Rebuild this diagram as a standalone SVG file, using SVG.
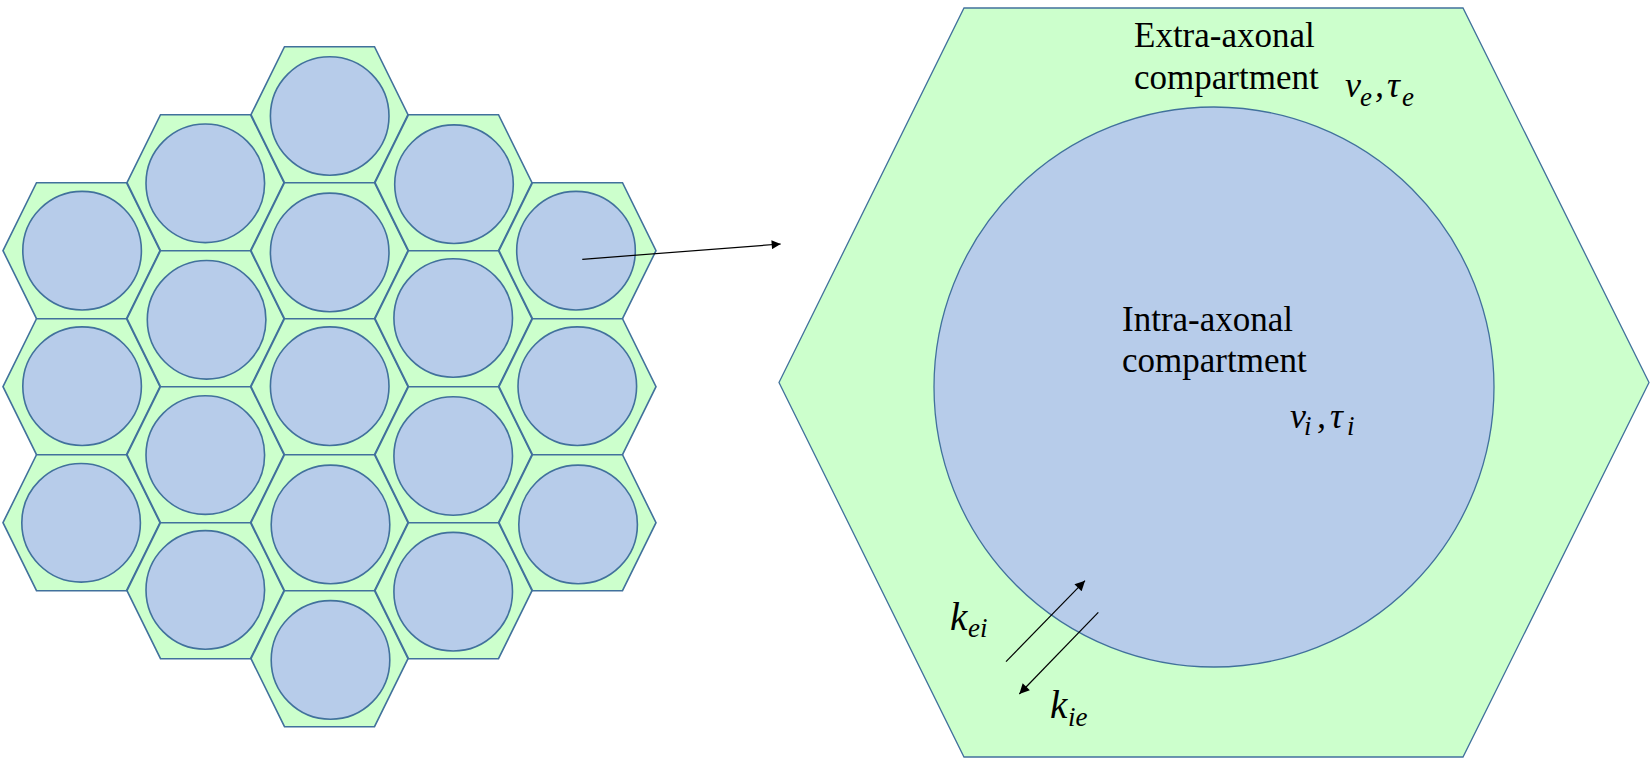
<svg xmlns="http://www.w3.org/2000/svg" xmlns:xlink="http://www.w3.org/1999/xlink" width="1652" height="761" viewBox="0 0 1652 761">
<style>
.hex{fill:#CCFFCC;stroke:#41719C;stroke-width:1.6;stroke-linejoin:miter}
.ax{fill:#B7CCEA;stroke:#41719C;stroke-width:1.6}
.bighex{fill:#CCFFCC;stroke:#41719C;stroke-width:1.3}
.bigax{fill:#B7CCEA;stroke:#41719C;stroke-width:1.3}
.conn{stroke:#000;stroke-width:1.2;fill:none}
</style>
<defs>
<polygon id="hex" points="-78.5,0 -45,-68 45,-68 78.5,0 45,68 -45,68"/>
<marker id="arr" viewBox="0 0 10 10" refX="10" refY="5" markerWidth="10" markerHeight="9" markerUnits="userSpaceOnUse" orient="auto">
<path d="M0,0 L10,5 L0,10 Z" fill="#000"/>
</marker>
<marker id="arr2" viewBox="0 0 10 10" refX="10" refY="5" markerWidth="12" markerHeight="10" markerUnits="userSpaceOnUse" orient="auto">
<path d="M0,0 L10,5 L0,10 Z" fill="#000"/>
</marker>
</defs>

<g id="cluster">
<g id="cell-c0-r0"><use xlink:href="#hex" href="#hex" class="hex" x="81.5" y="250.7"/><circle class="ax" cx="82.1" cy="250.7" r="59.3"/></g>
<g id="cell-c0-r1"><use xlink:href="#hex" href="#hex" class="hex" x="81.5" y="386.7"/><circle class="ax" cx="82.1" cy="386.2" r="59.3"/></g>
<g id="cell-c0-r2"><use xlink:href="#hex" href="#hex" class="hex" x="81.5" y="522.7"/><circle class="ax" cx="81.1" cy="522.8" r="59.3"/></g>
<g id="cell-c1-r0"><use xlink:href="#hex" href="#hex" class="hex" x="205.5" y="182.7"/><circle class="ax" cx="205.3" cy="183.3" r="59.3"/></g>
<g id="cell-c1-r1"><use xlink:href="#hex" href="#hex" class="hex" x="205.5" y="318.7"/><circle class="ax" cx="206.6" cy="319.8" r="59.3"/></g>
<g id="cell-c1-r2"><use xlink:href="#hex" href="#hex" class="hex" x="205.5" y="454.7"/><circle class="ax" cx="205.3" cy="455.1" r="59.3"/></g>
<g id="cell-c1-r3"><use xlink:href="#hex" href="#hex" class="hex" x="205.5" y="590.7"/><circle class="ax" cx="205.3" cy="589.9" r="59.3"/></g>
<g id="cell-c2-r0"><use xlink:href="#hex" href="#hex" class="hex" x="329.5" y="114.7"/><circle class="ax" cx="329.7" cy="116" r="59.3"/></g>
<g id="cell-c2-r1"><use xlink:href="#hex" href="#hex" class="hex" x="329.5" y="250.7"/><circle class="ax" cx="329.7" cy="252.4" r="59.3"/></g>
<g id="cell-c2-r2"><use xlink:href="#hex" href="#hex" class="hex" x="329.5" y="386.7"/><circle class="ax" cx="329.7" cy="386.2" r="59.3"/></g>
<g id="cell-c2-r3"><use xlink:href="#hex" href="#hex" class="hex" x="329.5" y="522.7"/><circle class="ax" cx="330.5" cy="524.4" r="59.3"/></g>
<g id="cell-c2-r4"><use xlink:href="#hex" href="#hex" class="hex" x="329.5" y="658.7"/><circle class="ax" cx="330.5" cy="659.9" r="59.3"/></g>
<g id="cell-c3-r0"><use xlink:href="#hex" href="#hex" class="hex" x="453.5" y="182.7"/><circle class="ax" cx="454" cy="184.2" r="59.3"/></g>
<g id="cell-c3-r1"><use xlink:href="#hex" href="#hex" class="hex" x="453.5" y="318.7"/><circle class="ax" cx="453.2" cy="318" r="59.3"/></g>
<g id="cell-c3-r2"><use xlink:href="#hex" href="#hex" class="hex" x="453.5" y="454.7"/><circle class="ax" cx="453.2" cy="456" r="59.3"/></g>
<g id="cell-c3-r3"><use xlink:href="#hex" href="#hex" class="hex" x="453.5" y="590.7"/><circle class="ax" cx="453.2" cy="591.7" r="59.3"/></g>
<g id="cell-c4-r0"><use xlink:href="#hex" href="#hex" class="hex" x="577.5" y="250.7"/><circle class="ax" cx="576" cy="250.7" r="59.3"/></g>
<g id="cell-c4-r1"><use xlink:href="#hex" href="#hex" class="hex" x="577.5" y="386.7"/><circle class="ax" cx="577.3" cy="386.2" r="59.3"/></g>
<g id="cell-c4-r2"><use xlink:href="#hex" href="#hex" class="hex" x="577.5" y="522.7"/><circle class="ax" cx="578.1" cy="524.4" r="59.3"/></g>
</g>

<g id="zoom-cell">
<polygon class="bighex" points="779,382.5 964,8 1463,8 1649,382.5 1463,757 964,757"/>
<circle class="bigax" cx="1214" cy="387" r="280"/>
<g font-family="Liberation Serif, DejaVu Serif, serif" font-size="35" fill="#000">
<text x="1134" y="47">Extra-axonal</text>
<text x="1134" y="89">compartment</text>
<text x="1122" y="331">Intra-axonal</text>
<text x="1122" y="372">compartment</text>
</g>
<g font-family="Liberation Serif, DejaVu Serif, serif" font-style="italic" fill="#000">
<text font-size="36" x="1345" y="97">v</text><text font-size="27" x="1360" y="106">e</text><text font-size="36" x="1375" y="97">,</text><text font-size="36" x="1387" y="97">τ</text><text font-size="27" x="1402" y="106">e</text>
<text font-size="36" x="1290" y="428">v</text><text font-size="27" x="1304" y="435">i</text><text font-size="36" x="1317" y="428">,</text><text font-size="36" x="1330" y="428">τ</text><text font-size="27" x="1347" y="435">i</text>
<text font-size="39" x="950" y="630">k</text><text font-size="27" x="968" y="637">ei</text>
<text font-size="39" x="1050" y="718">k</text><text font-size="27" x="1068" y="726">ie</text>
</g>
</g>

<g id="connectors">
<line class="conn" x1="582.3" y1="259.3" x2="780.7" y2="244" marker-end="url(#arr)"/>
<line class="conn" x1="1006" y1="661.7" x2="1085" y2="580.7" marker-end="url(#arr2)"/>
<line class="conn" x1="1098.3" y1="612.3" x2="1019.3" y2="694" marker-end="url(#arr2)"/>
</g>
</svg>
